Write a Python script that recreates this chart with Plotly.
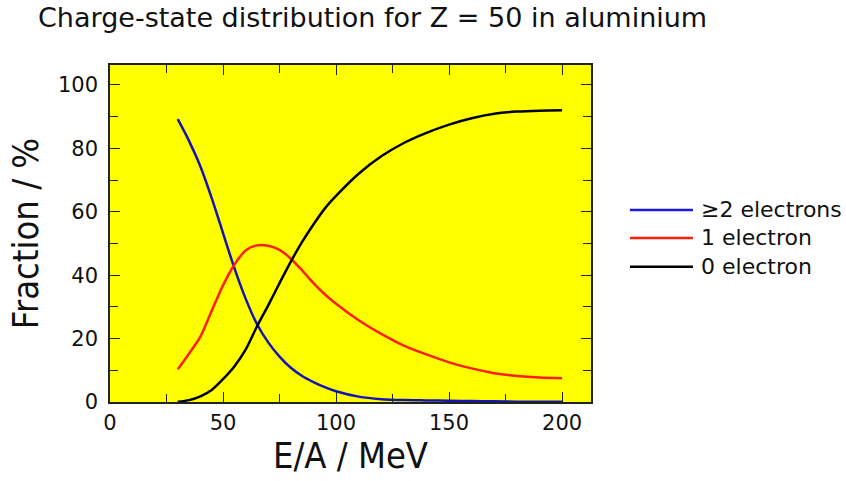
import plotly.graph_objects as go

# Beam energy per nucleon (MeV)
energy = [30, 35, 40, 45, 50, 55, 60, 65, 70, 75, 80, 85, 90, 95, 100,
          110, 120, 130, 140, 150, 160, 170, 180, 190, 200]

# Charge-state fractions (%)
two_or_more = [89.2, 82.3, 74.3, 64.3, 53.3, 42.3, 32.6, 24.6, 18.8, 14.3, 10.8, 8.2, 6.3, 4.7, 3.4,
               1.7, 0.9, 0.6, 0.5, 0.4, 0.3, 0.2, 0.1, 0.1, 0.1]
one_electron = [10.3, 15.3, 20.6, 28.8, 36.8, 43.3, 47.8, 49.4, 49.3, 48.0, 45.2, 41.5, 37.5, 34.0, 31.0,
                25.8, 21.5, 17.8, 15.0, 12.5, 10.6, 9.1, 8.2, 7.7, 7.5]
zero_electron = [0.1, 0.6, 1.8, 3.8, 7.2, 11.2, 16.5, 23.8, 30.5, 37.5, 44.3, 50.5, 56.0, 61.0, 65.0,
                 72.0, 77.5, 81.7, 84.9, 87.5, 89.5, 90.9, 91.6, 91.9, 92.0]

series_names = ["≥2 electrons", "1 electron", "0 electron"]
series_colors = ["#1414b4", "#ff1e0a", "#000000"]
series_values = [two_or_more, one_electron, zero_electron]

FONT = "DejaVu Sans, sans-serif"
FONT_NARROW = "DejaVu Sans Condensed, DejaVu Sans, sans-serif"

fig = go.Figure()
for name, color, vals in zip(series_names, series_colors, series_values):
    fig.add_trace(go.Scatter(
        x=energy, y=vals, name=name, mode="lines",
        line=dict(color=color, width=2.5, shape="spline", smoothing=0.8),
        showlegend=False,
    ))

# Hand-drawn legend to the right of the frame
legend_y = [0.570, 0.487, 0.401]
legend_colors = ["#1a1ae6", "#ff1e0a", "#000000"]
shapes = []
annotations = []
for name, color, ly in zip(series_names, legend_colors, legend_y):
    shapes.append(dict(type="line", xref="paper", yref="paper",
                       x0=1.081, x1=1.212, y0=ly, y1=ly,
                       line=dict(color=color, width=2.5)))
    annotations.append(dict(xref="paper", yref="paper", x=1.225, y=ly,
                            text=name, showarrow=False, xanchor="left", yanchor="middle",
                            font=dict(family=FONT, size=22, color="#111")))

axis_common = dict(
    showline=True, linecolor="#222", linewidth=1.6, mirror="ticks",
    ticks="inside", ticklen=10, tickwidth=1.4, tickcolor="#222",
    showgrid=False, zeroline=False,
    tickfont=dict(family=FONT, size=21, color="#111"),
)

fig.update_layout(
    width=846, height=481,
    margin=dict(l=110, r=255, t=65, b=79),
    paper_bgcolor="white", plot_bgcolor="#ffff00",
    title=dict(text="Charge-state distribution for Z = 50 in aluminium",
               xref="container", x=38 / 846, xanchor="left",
               yref="container", y=1 - 8 / 481, yanchor="top",
               font=dict(family=FONT, size=27, color="#111")),
    xaxis=dict(range=[0, 212.8], tick0=0, dtick=50,
               minor=dict(dtick=25, ticks="inside", ticklen=8, tickwidth=1.4, tickcolor="#222"),
               ticklabelstandoff=1,
               title=dict(text="E/A / MeV", standoff=6,
                          font=dict(family=FONT_NARROW, size=36, color="#111")),
               **axis_common),
    yaxis=dict(range=[0, 106.3], tick0=0, dtick=20,
               minor=dict(dtick=10, ticks="inside", ticklen=8, tickwidth=1.4, tickcolor="#222"),
               ticklabelstandoff=6,
               title=dict(text="Fraction / %", standoff=8,
                          font=dict(family=FONT_NARROW, size=36, color="#111")),
               **axis_common),
    shapes=shapes,
    annotations=annotations,
)

fig.write_html("out.html")
